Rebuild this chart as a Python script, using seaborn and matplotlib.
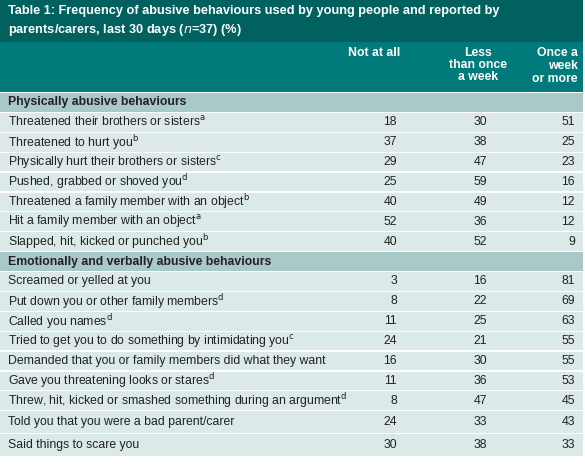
import matplotlib
matplotlib.use("Agg")
import matplotlib.pyplot as plt
import seaborn as sns

sns.set_theme(style="white")
plt.rcParams['font.family'] = ['Liberation Sans Narrow', 'Liberation Sans', 'DejaVu Sans']

title = ["Table 1: Frequency of abusive behaviours used by young people and reported by",
         "parents/carers, last 30 days ($\\it{n}$=37) (%)"]
columns = ["Not at all", "Less\nthan once\na week", "Once a\nweek\nor more"]
sections = ["Physically abusive behaviours", "Emotionally and verbally abusive behaviours"]
phys_items = ["Threatened their brothers or sisters", "Threatened to hurt you",
              "Physically hurt their brothers or sisters", "Pushed, grabbed or shoved you",
              "Threatened a family member with an object", "Hit a family member with an object",
              "Slapped, hit, kicked or punched you"]
phys_sup = ["a", "b", "c", "d", "b", "a", "b"]
phys_vals = [[18, 30, 51], [37, 38, 25], [29, 47, 23], [25, 59, 16],
             [40, 49, 12], [52, 36, 12], [40, 52, 9]]
emo_items = ["Screamed or yelled at you", "Put down you or other family members", "Called you names",
             "Tried to get you to do something by intimidating you",
             "Demanded that you or family members did what they want",
             "Gave you threatening looks or stares",
             "Threw, hit, kicked or smashed something during an argument",
             "Told you that you were a bad parent/carer", "Said things to scare you"]
emo_sup = ["", "d", "d", "c", "", "d", "d", "", ""]
emo_vals = [[3, 16, 81], [8, 22, 69], [11, 25, 63], [24, 21, 55], [16, 30, 55],
            [11, 36, 53], [8, 47, 45], [24, 33, 43], [30, 38, 33]]

W, H = 585, 470
fig = plt.figure(figsize=(W / 100, H / 100), dpi=100)
ax = fig.add_axes([0, 0, 1, 1])
ax.set_xlim(0, W)
ax.set_ylim(H, 0)
ax.axis("off")

FS = 8.8
left, right = 0, 583
ax.fill_between([left, right], 0, 42, color="#00615f", lw=0)
ax.fill_between([left, right], 42, 92, color="#007a7a", lw=0)
ax.text(8, 5, title[0], color="white", fontsize=9.2, fontweight="bold", va="top")
ax.text(8, 22, title[1], color="white", fontsize=9.2, fontweight="bold", va="top")

colx = [400, 490, 578]
ax.text(colx[0], 47, columns[0], color="white", fontsize=FS, fontweight="bold", ha="right", va="top")
ax.text(478, 47, columns[1], color="white", fontsize=FS, fontweight="bold", ha="center", va="top", linespacing=1.0)
ax.text(colx[2], 47, columns[2], color="white", fontsize=FS, fontweight="bold", ha="right", va="top",
        linespacing=1.1, multialignment="right")

y = 93.0
def row(y0, h, label, sup, vals, section=False):
    col = "#a9c9c8" if section else "#dbe9e8"
    ax.fill_between([left, right], y0, y0 + h - 1.2, color=col, lw=0)
    yc = y0 + h / 2 - 0.6
    if section:
        ax.text(8, yc, label, fontsize=FS, fontweight="bold", va="center", color="#222222")
    else:
        txt = label + (f"$^{{\\mathrm{{{sup}}}}}$" if sup else "")
        ax.text(8, yc, txt, fontsize=FS, va="center", color="#222222")
        for x, v in zip(colx, vals):
            ax.text(x - 3, yc, str(v), fontsize=FS, va="center", ha="right", color="#222222")

step = 19.9
row(y, step, sections[0], "", None, True); y += step
for l, s, v in zip(phys_items, phys_sup, phys_vals):
    row(y, step, l, s, v); y += step
row(y, step, sections[1], "", None, True); y += step
for i, (l, s, v) in enumerate(zip(emo_items, emo_sup, emo_vals)):
    h = step if i < 7 else 22.8
    row(y, h, l, s, v); y += h

fig.savefig("out.png", dpi=100)
